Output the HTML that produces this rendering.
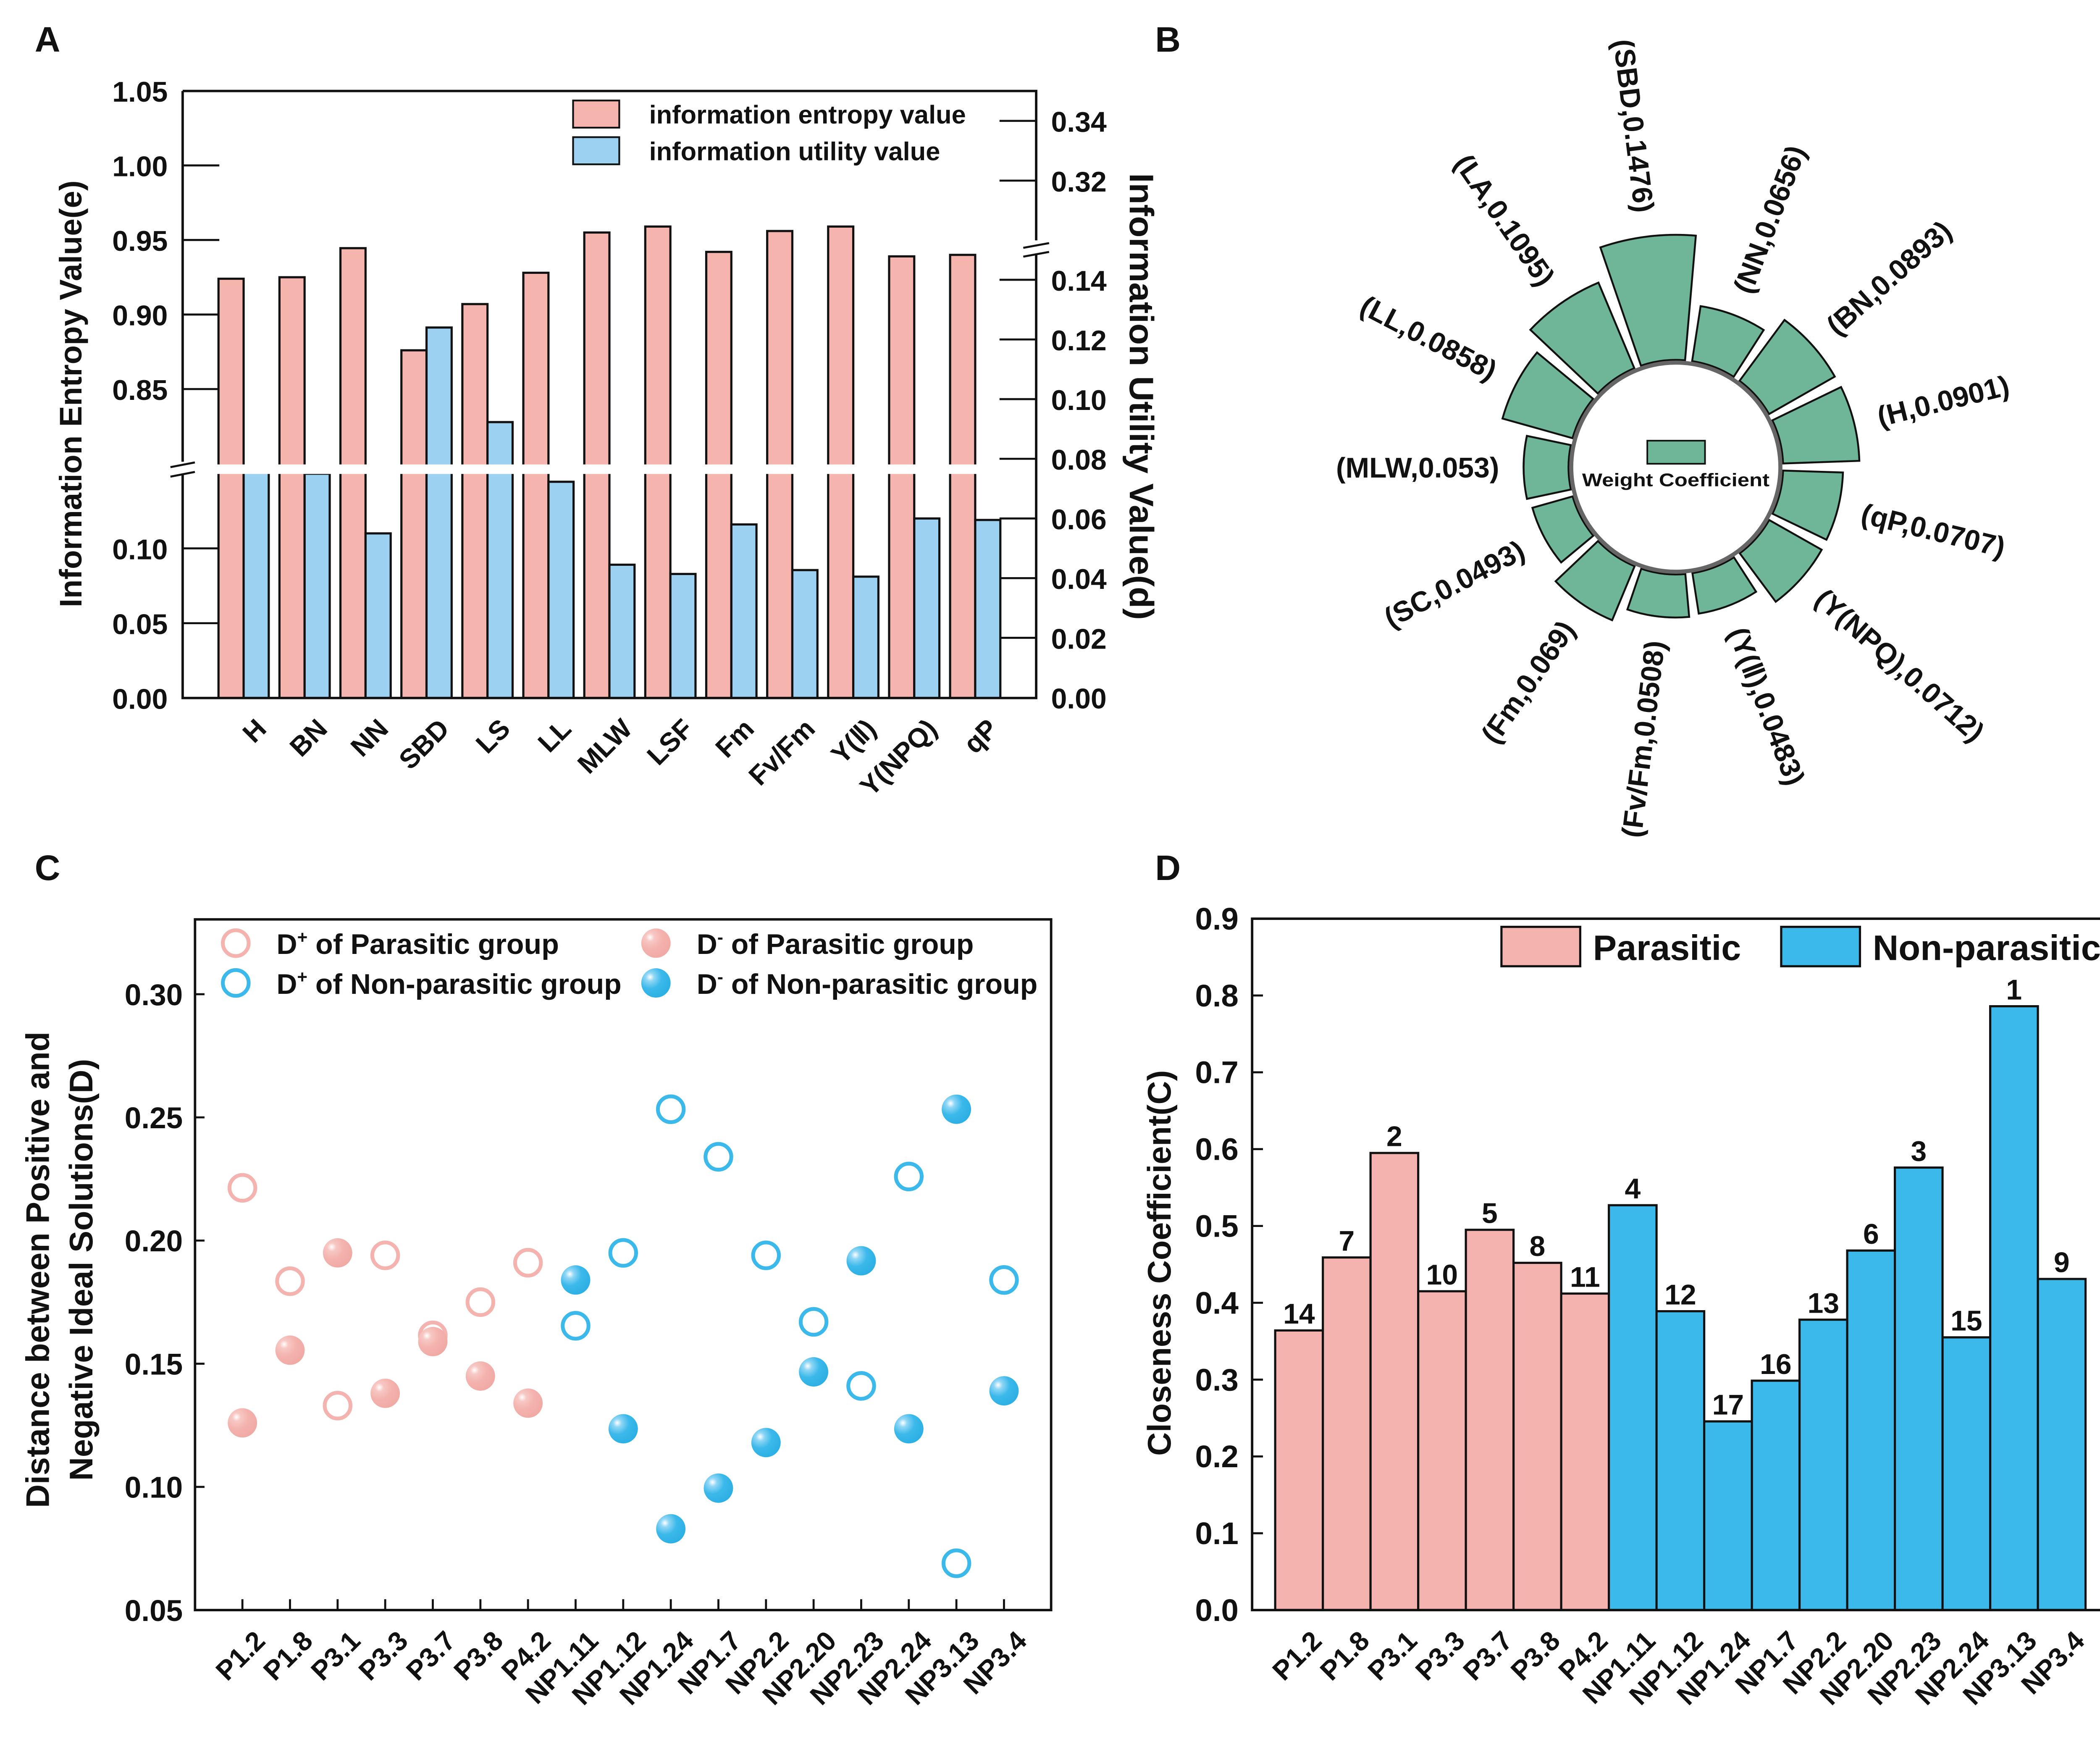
<!DOCTYPE html>
<html><head><meta charset="utf-8"><style>
html,body{margin:0;padding:0;background:#fff;}
svg{display:block;}
text{font-family:"Liberation Sans",Arial,sans-serif;font-weight:bold;fill:#111;}
</style></head><body>
<svg id="fig" xmlns="http://www.w3.org/2000/svg" width="5070" height="4190" viewBox="0 0 1568 1296" preserveAspectRatio="none">
<defs>
<radialGradient id="gPink" cx="0.3" cy="0.3" r="0.8"><stop offset="0" stop-color="#fff"/><stop offset="0.18" stop-color="#f7c8c4"/><stop offset="0.5" stop-color="#f4b3ae"/><stop offset="1" stop-color="#f0a8a2"/></radialGradient>
<radialGradient id="gBlue" cx="0.3" cy="0.3" r="0.8"><stop offset="0" stop-color="#fff"/><stop offset="0.18" stop-color="#8fd6f5"/><stop offset="0.5" stop-color="#3bb9ea"/><stop offset="1" stop-color="#2aaee3"/></radialGradient>
</defs>
<g id="pA"></g>
<g id="pB"></g>
<g id="pC"></g>
<g id="pD"></g>
</svg>
<script>
// ===== Panel A data =====
const aCats = ["H","BN","NN","SBD","LS","LL","MLW","LSF","Fm","Fv/Fm","Y(\u2161)","Y(NPQ)","qP"];
const aEntropy = [0.924,0.925,0.9445,0.876,0.907,0.928,0.955,0.959,0.942,0.956,0.959,0.939,0.940];
const aUtility = [0.0759,0.075,0.055,0.124,0.0923,0.0723,0.0445,0.0414,0.058,0.0427,0.0405,0.060,0.0595];
const aLeftTicksTop = [0.85,0.90,0.95,1.00,1.05];
const aLeftTicksBot = [0.00,0.05,0.10];
const aRightTicksBot = [0.00,0.02,0.04,0.06,0.08,0.10,0.12,0.14];
const aRightTicksTop = [0.32,0.34];
// ===== Panel B data =====
const bNames = ["SBD","NN","BN","H","qP","Y(NPQ)","Y(\u2161)","Fv/Fm","Fm","SC","MLW","LL","LA"];
const bWeights = [0.1476,0.0656,0.0893,0.0901,0.0707,0.0712,0.0483,0.0508,0.069,0.0493,0.053,0.0858,0.1095];
const bLabels = ["0.1476","0.0656","0.0893","0.0901","0.0707","0.0712","0.0483","0.0508","0.069","0.0493","0.053","0.0858","0.1095"];
// ===== Panel C data =====
const cCats = ["P1.2","P1.8","P3.1","P3.3","P3.7","P3.8","P4.2","NP1.11","NP1.12","NP1.24","NP1.7","NP2.2","NP2.20","NP2.23","NP2.24","NP3.13","NP3.4"];
const cDplusP = [0.2214,0.1835,0.133,0.194,0.1615,0.175,0.191];
const cDminusP = [0.126,0.1555,0.195,0.138,0.159,0.145,0.134];
const cDplusNP = [0.1654,0.195,0.2533,0.234,0.194,0.167,0.141,0.226,0.069,0.184];
const cDminusNP = [0.184,0.1236,0.083,0.0995,0.118,0.1467,0.1918,0.1236,0.2533,0.139];
const cTicks = [0.05,0.10,0.15,0.20,0.25,0.30];
// ===== Panel D data =====
const dCats = ["P1.2","P1.8","P3.1","P3.3","P3.7","P3.8","P4.2","NP1.11","NP1.12","NP1.24","NP1.7","NP2.2","NP2.20","NP2.23","NP2.24","NP3.13","NP3.4"];
const dValues = [0.364,0.459,0.595,0.415,0.495,0.452,0.412,0.527,0.389,0.2456,0.2986,0.378,0.468,0.576,0.355,0.786,0.431];
const dRanks = ["14","7","2","10","5","8","11","4","12","17","16","13","6","3","15","1","9"];
const dParasiticCount = 7;
const dTicks = [0.0,0.1,0.2,0.3,0.4,0.5,0.6,0.7,0.8,0.9];

const NS="http://www.w3.org/2000/svg";
function mk(parent,tag,attrs,txt){const e=document.createElementNS(NS,tag);for(const k in attrs)e.setAttribute(k,attrs[k]);if(txt!==undefined)e.textContent=txt;parent.appendChild(e);return e;}

// ---------- Panel A ----------
(function(){
const g=document.getElementById('pA');
const L=134.5,R=763,T=67,B=514;
const yL=v=>v>=0.8?341.4-(v-0.8)*1098:514-v*1102;
const yR=v=>v>=0.3?133-(v-0.32)*2200:513.6-v*2197;
const step=(R-L)/(aCats.length+1);
const bw=18.5;
let t=mk(g,'text',{x:35,y:38,'font-size':26,'text-anchor':'middle'},'A');

aCats.forEach((c,i)=>{
 const cx=L+step*(i+1);
 let r=mk(g,'rect',{x:cx-bw,y:yL(aEntropy[i]),width:bw,height:B-yL(aEntropy[i]),fill:'#f5b4ae',stroke:'#111','stroke-width':1.6});
 
 let b=mk(g,'rect',{x:cx,y:yR(aUtility[i]),width:bw,height:B-yR(aUtility[i]),fill:'#9dd1f1',stroke:'#111','stroke-width':1.6});
 
 let lb=mk(g,'text',{x:cx+8,y:528,'font-size':20,'text-anchor':'end',transform:`rotate(-45 ${cx+8} 528)`,dy:'0.7em'},c);
 
});
mk(g,'rect',{x:L+4,y:342,width:R-L-8,height:7,fill:'#fff'});
mk(g,'path',{d:`M${L} ${T}H${R}V177M${R} 187V${B}H${L}V349M${L} 340V${T}`,fill:'none',stroke:'#111','stroke-width':1.8});
mk(g,'path',{d:`M${L-9} 344l18 -3.5M${L-9} 351l18 -3.5`,stroke:'#111','stroke-width':1.5});
mk(g,'path',{d:`M${R-9.5} 182.5l19 -3.5M${R-9.5} 189l19 -3.5`,stroke:'#111','stroke-width':1.5});
aLeftTicksTop.concat(aLeftTicksBot).forEach(v=>{
 const y=yL(v);if(v<1.05)mk(g,'line',{x1:L,x2:L+27,y1:y,y2:y,stroke:'#111','stroke-width':1.5});
 let tt=mk(g,'text',{x:L-11,y:y+8,'font-size':21,'text-anchor':'end'},v.toFixed(2));
 
});
aRightTicksBot.concat(aRightTicksTop).forEach(v=>{
 const y=yR(v);if(v>0)mk(g,'line',{x1:R-27,x2:R,y1:y,y2:y,stroke:'#111','stroke-width':1.5});
 let tt=mk(g,'text',{x:R+11,y:y+8,'font-size':21},v.toFixed(2));
 
});
let yt=mk(g,'text',{x:60,y:290,'font-size':23,'text-anchor':'middle',transform:'rotate(-90 60 290)'},'Information Entropy Value(e)');

let yt2=mk(g,'text',{x:832,y:292,'font-size':25,'text-anchor':'middle',textLength:329,lengthAdjust:'spacingAndGlyphs',transform:'rotate(90 832 292)'},'Information Utility Value(d)');

let l1=mk(g,'rect',{x:422,y:74,width:34,height:20,fill:'#f5b4ae',stroke:'#111','stroke-width':1.3});

let lt1=mk(g,'text',{x:478,y:91,'font-size':19},'information entropy value');

let l2=mk(g,'rect',{x:422,y:101,width:34,height:20,fill:'#9dd1f1',stroke:'#111','stroke-width':1.3});

let lt2=mk(g,'text',{x:478,y:118,'font-size':19},'information utility value');

})();

// ---------- Panel B ----------
(function(){
const g=document.getElementById('pB');
const cx=1234,cy=344,r0=79,k=624,start=-7,span=360/bNames.length;
let t=mk(g,'text',{x:860,y:38,'font-size':26,'text-anchor':'middle'},'B');

const pt=(r,a)=>{const rad=a*Math.PI/180;return [cx+r*Math.sin(rad),cy-r*Math.cos(rad)];};
bNames.forEach((n,i)=>{
 const ac=start+span*i,a1=ac-span/2+1.9,a2=ac+span/2-1.9;
 const ro=r0+k*bWeights[i];
 const p1=pt(r0,a1),p2=pt(ro,a1),p3=pt(ro,a2),p4=pt(r0,a2);
 let w=mk(g,'path',{d:`M${p1[0]} ${p1[1]}L${p2[0]} ${p2[1]}A${ro} ${ro} 0 0 1 ${p3[0]} ${p3[1]}L${p4[0]} ${p4[1]}A${r0} ${r0} 0 0 0 ${p1[0]} ${p1[1]}Z`,fill:'#6fb597',stroke:'#111','stroke-width':1.4});
 
 let a=((ac%360)+360)%360;const lp=pt(ro+18,ac);
 let rot,anchor;
 if(a<180){rot=ac-90;anchor='start';}else{rot=ac+90;anchor='end';}
 let lb=mk(g,'text',{x:lp[0],y:lp[1],'font-size':21,'text-anchor':anchor,dy:'0.35em',transform:`rotate(${rot} ${lp[0]} ${lp[1]})`},'('+n+','+bLabels[i]+')');
 
});
let c=mk(g,'circle',{cx:cx,cy:cy,r:77,fill:'#fff',stroke:'#666','stroke-width':3});

let lr=mk(g,'rect',{x:1213,y:324.5,width:42.5,height:17,fill:'#6fb597',stroke:'#111','stroke-width':1.2});

let lt=mk(g,'text',{x:1234,y:358,'font-size':13.5,'text-anchor':'middle',textLength:138,lengthAdjust:'spacingAndGlyphs'},'Weight Coefficient');

})();

// ---------- Panel C ----------
(function(){
const g=document.getElementById('pC');
const L=143.6,R=774,T=677,B=1185.6;
const y=v=>B-(v-0.05)*1814;
const x=i=>178.5+35.05*i;
let t=mk(g,'text',{x:35,y:648,'font-size':26,'text-anchor':'middle'},'C');

mk(g,'rect',{x:L,y:T,width:R-L,height:B-T,fill:'none',stroke:'#111','stroke-width':1.8});
cTicks.forEach(v=>{const yy=y(v);mk(g,'line',{x1:L,x2:L+7,y1:yy,y2:yy,stroke:'#111','stroke-width':1.5});
 let tt=mk(g,'text',{x:L-9,y:yy+8,'font-size':22,'text-anchor':'end'},v.toFixed(2));
 });
cCats.forEach((c,i)=>{const xx=x(i);mk(g,'line',{x1:xx,x2:xx,y1:B-8,y2:B,stroke:'#111','stroke-width':1.5});
 let lb=mk(g,'text',{x:xx+8,y:B+14,'font-size':20,'text-anchor':'end',dy:'0.7em',transform:`rotate(-45 ${xx+8} ${B+14})`},c);
 });
const np=cDplusP.length;
cDplusP.forEach((v,i)=>{let m=mk(g,'circle',{cx:x(i),cy:y(v),r:9.5,fill:'none',stroke:'#f4b3ae','stroke-width':2.8});
 });
cDminusP.forEach((v,i)=>{let m=mk(g,'circle',{cx:x(i),cy:y(v),r:10.8,fill:'url(#gPink)'});
 });
cDplusNP.forEach((v,i)=>{let m=mk(g,'circle',{cx:x(i+np),cy:y(v),r:9.5,fill:'none',stroke:'#3bb9ea','stroke-width':2.8});
 });
cDminusNP.forEach((v,i)=>{let m=mk(g,'circle',{cx:x(i+np),cy:y(v),r:10.8,fill:'url(#gBlue)'});
 });
const leg=[[173.6,694.5,'open','#f4b3ae','Parasitic group','+',208],[483,694.5,'fill','url(#gPink)','Parasitic group','-',204],[173.6,723.8,'open','#3bb9ea','Non-parasitic group','+',254],[483,723.8,'fill','url(#gBlue)','Non-parasitic group','-',251]];
leg.forEach(l=>{
 let m=l[2]=='open'?mk(g,'circle',{cx:l[0],cy:l[1],r:9.5,fill:'none',stroke:l[3],'stroke-width':2.8}):mk(g,'circle',{cx:l[0],cy:l[1],r:10.8,fill:l[3]});
 
 const tx=mk(g,'text',{x:l[0]+30,y:l[1]+8,'font-size':21,textLength:l[6],lengthAdjust:'spacingAndGlyphs'});
 
 const s1=document.createElementNS(NS,'tspan');s1.textContent='D';tx.appendChild(s1);
 const s2=document.createElementNS(NS,'tspan');s2.setAttribute('dy','-8');s2.setAttribute('font-size','13');s2.textContent=l[5];tx.appendChild(s2);
 const s3=document.createElementNS(NS,'tspan');s3.setAttribute('dy','8');s3.textContent=' of '+l[4];tx.appendChild(s3);
});
let yt=mk(g,'text',{x:36,y:935,'font-size':24,'text-anchor':'middle',transform:'rotate(-90 36 935)'},'Distance between Positive and');

let yt2=mk(g,'text',{x:68,y:935,'font-size':24,'text-anchor':'middle',transform:'rotate(-90 68 935)'},'Negative Ideal Solutions(D)');

})();

// ---------- Panel D ----------
(function(){
const g=document.getElementById('pD');
const L=922,R=1553,T=676.5,B=1185.6;
const y=v=>B-v*565.7;
const x0=939,w=35.1;
let t=mk(g,'text',{x:860,y:648,'font-size':26,'text-anchor':'middle'},'D');

dCats.forEach((c,i)=>{
 const xx=x0+w*i,v=dValues[i];
 let b=mk(g,'rect',{x:xx,y:y(v),width:w,height:B-y(v),fill:i<dParasiticCount?'#f4b3ae':'#3bb9ea',stroke:'#111','stroke-width':1.6});
 
 let rk=mk(g,'text',{x:xx+w/2,y:y(v)-5,'font-size':21,'text-anchor':'middle'},dRanks[i]);
 
 const cx=xx+w/2;
 let lb=mk(g,'text',{x:cx+8,y:B+14,'font-size':20,'text-anchor':'end',dy:'0.7em',transform:`rotate(-45 ${cx+8} ${B+14})`},c);
 
});
mk(g,'rect',{x:L,y:T,width:R-L,height:B-T,fill:'none',stroke:'#111','stroke-width':1.8});
dTicks.forEach(v=>{const yy=y(v);if(v>0&&v<0.9)mk(g,'line',{x1:L,x2:L+8,y1:yy,y2:yy,stroke:'#111','stroke-width':1.5});
 let tt=mk(g,'text',{x:L-10,y:yy+8,'font-size':23,'text-anchor':'end'},v.toFixed(1));
 });
let l1=mk(g,'rect',{x:1105.6,y:682.5,width:58,height:29,fill:'#f4b3ae',stroke:'#111','stroke-width':1.6});

let lt1=mk(g,'text',{x:1173,y:707,'font-size':26,textLength:109,lengthAdjust:'spacingAndGlyphs'},'Parasitic');

let l2=mk(g,'rect',{x:1311.6,y:682.5,width:58,height:29,fill:'#3bb9ea',stroke:'#111','stroke-width':1.6});

let lt2=mk(g,'text',{x:1379,y:707,'font-size':26,textLength:168,lengthAdjust:'spacingAndGlyphs'},'Non-parasitic');

let yt=mk(g,'text',{x:862,y:930,'font-size':24,'text-anchor':'middle',transform:'rotate(-90 862 930)'},'Closeness Coefficient(C)');

})();
</script>
</body></html>
